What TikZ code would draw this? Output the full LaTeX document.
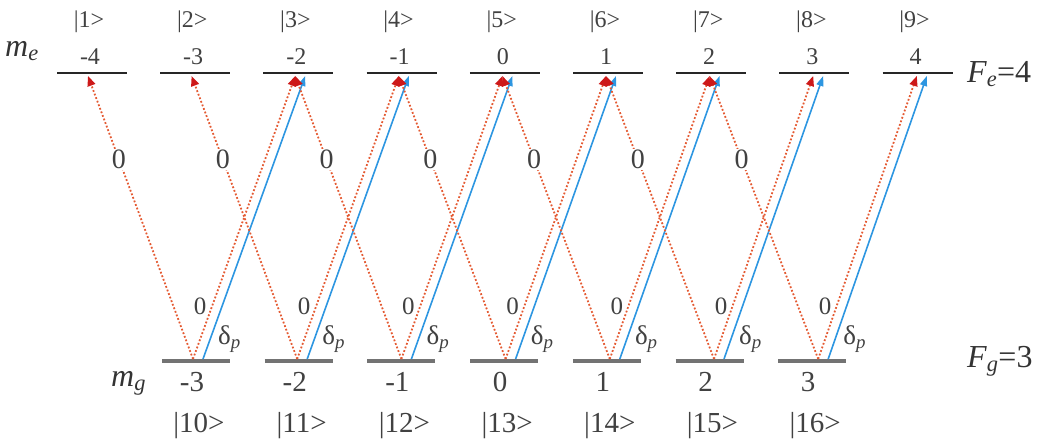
\documentclass[tikz,border=0pt]{standalone}
\usepackage{fontspec}
\setmainfont{Liberation Serif}
\usepackage{xcolor}
\usetikzlibrary{arrows.meta, positioning, calc}
\definecolor{sigred}{RGB}{228, 90, 50}
\definecolor{tipred}{RGB}{205, 25, 25}
\definecolor{pumpblue}{RGB}{45, 150, 225}
\definecolor{levgray}{RGB}{115, 115, 115}
\definecolor{txtgray}{RGB}{65, 65, 65}
\tikzset{
  elevel/.style={line width=2.6pt, draw=black!85},
  glevel/.style={line width=3.6pt, draw=levgray},
  sigma/.style={-{Triangle[length=10pt, width=8pt, color=tipred]}, dotted,
                line width=1.8pt, color=sigred},
  pump/.style={-{Triangle[length=10pt, width=7pt]}, line width=1.6pt, color=pumpblue},
  toplbl/.style={font=\fontsize{24}{28}\selectfont, text=txtgray, inner sep=0pt, anchor=base},
  botlbl/.style={font=\fontsize{29}{33}\selectfont, text=txtgray, inner sep=0pt, anchor=base},
  midzero/.style={font=\fontsize{28}{32}\selectfont, text=txtgray, fill=white, inner sep=1pt},
  botzero/.style={font=\fontsize{25}{29}\selectfont, text=txtgray, inner sep=0pt, anchor=base},
  dlbl/.style={font=\fontsize{27}{31}\selectfont, text=txtgray, inner sep=0pt, anchor=base west},
  flbl/.style={font=\fontsize{32}{36}\selectfont, text=black!80, inner sep=0pt, anchor=base west},
}

\begin{document}
\begin{tikzpicture}[x=1pt, y=-1pt]
  \useasboundingbox (0,0) rectangle (1042,443);

  % Excited levels F_e=4
  \foreach \m [count=\i] in {-4,...,4} {
    \coordinate (e\i) at ({92+103.2*(\i-1)},73);
    \draw[elevel] ($(e\i)+(-35,0)$) -- ($(e\i)+(35,0)$);
    \node[toplbl] (em\i) at ($(e\i)+(-2,-8)$) {\m};
    \node[toplbl] (ek\i) at ($(e\i)+(-3,-45)$) {|\i>};
    \coordinate (er\i) at ({88+103.6*(\i-1)},76);
    \coordinate (eb\i) at ($(er\i)+(10,0)$);
  }

  % Ground levels F_g=3
  \foreach \m [count=\j] in {-3,...,3} {
    \coordinate (g\j) at ({196+102.7*(\j-1)},361);
    \draw[glevel] ($(g\j)+(-34,0)$) -- ($(g\j)+(34,0)$);
    \node[botlbl] (gm\j) at ($(g\j)+(-4,31)$) {\m};
    \pgfmathtruncatemacro\k{\j+9}
    \node[botlbl] (gk\j) at ($(g\j)+(3,72)$) {|\k>};
    \coordinate (gs\j) at ({193+104.2*(\j-1)},359);
    \coordinate (gb\j) at ($(gs\j)+(10,0)$);
  }

  % Transitions
  \foreach \j in {1,...,7} {
    \pgfmathtruncatemacro\k{\j+2}
    \draw[sigma] (gs\j) -- (er\j) node[midzero, pos=0.705] (z\j) {0};
    \draw[sigma] (gs\j) -- (er\k);
    \draw[pump] (gb\j) -- (eb\k);
    \node[botzero] (zb\j) at ($(gs\j)+(7,-44)$) {0};
    \node[dlbl] (d\j) at ($(gb\j)+(15,-14)$) {δ\textsubscript{\itshape p}};
  }

  % Quantum numbers
  \node[flbl] (me) at (5,57) {\itshape m\textsubscript{e}};
  \node[flbl] (mg) at (111,387) {\itshape m\textsubscript{g}};
  \node[flbl] (fe) at (967,83) {\itshape F\textsubscript{e}\upshape =4};
  \node[flbl] (fg) at (967,368) {\itshape F\textsubscript{g}\upshape =3};
\end{tikzpicture}
\end{document}
